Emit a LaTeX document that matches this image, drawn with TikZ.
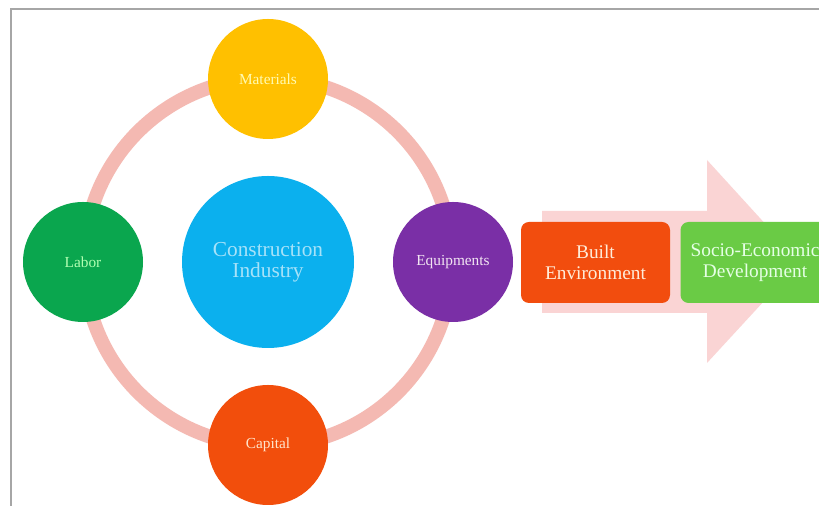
\documentclass[tikz,border=0pt]{standalone}
\usepackage{fontspec}
\setmainfont{Liberation Serif}
\usetikzlibrary{positioning}
\definecolor{ringpink}{HTML}{F4B9B2}
\definecolor{arrowpink}{HTML}{FAD4D4}
\definecolor{matyellow}{HTML}{FFC000}
\definecolor{labgreen}{HTML}{0AA64E}
\definecolor{eqpurple}{HTML}{7A2FA6}
\definecolor{capred}{HTML}{F24E0C}
\definecolor{indcyan}{HTML}{0BB0EE}
\definecolor{builtred}{HTML}{F24D0E}
\definecolor{socgreen}{HTML}{6ACB45}
\begin{document}
\begin{tikzpicture}[x=0.75pt,y=0.75pt,
  factor/.style={circle,minimum size=90pt,inner sep=0pt,align=center,font=\fontsize{11.5}{13}\selectfont},
  stage/.style={rounded corners=6pt,minimum width=111.75pt,minimum height=60.75pt,inner sep=0pt,align=center,font=\fontsize{14.5}{16}\selectfont}]
\clip (0,0) rectangle (819,506);
\fill[white] (0,0) rectangle (819,506);
\draw[gray!70, line width=1.5pt] (11,0) -- (11,497) -- (819,497);
\draw[ringpink, line width=10.5pt] (268,244) circle (184);
\fill[arrowpink] (542,295) -- (707,295) -- (707,346) -- (800,244) -- (707,143) -- (707,193) -- (542,193) -- cycle;
\node[circle,fill=indcyan,minimum size=129pt,inner sep=0pt,align=center,text=cyan!35!white,font=\fontsize{16}{16}\selectfont] (industry) at (268,244) {Construction\\Industry};
\node[factor,fill=matyellow,text=yellow!30!white] (materials) at (268,427) {Materials};
\node[factor,fill=labgreen,text=green!30!white] (labor) at (83,244) {Labor};
\node[factor,fill=eqpurple,text=violet!10!white] (equip) at (453,244) {Equipments};
\node[factor,fill=capred,text=orange!20!white] (capital) at (268,61) {Capital};
\node[stage,fill=builtred,text=orange!15!white] (built) at (595.5,243.5) {Built\\Environment};
\node[stage,fill=socgreen,text=green!10!white,right=7.5pt of built] (socio) {Socio-Economic\\Development};
\end{tikzpicture}
\end{document}
